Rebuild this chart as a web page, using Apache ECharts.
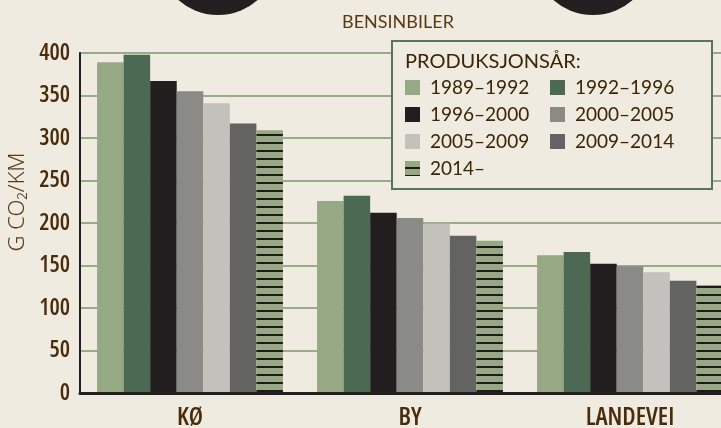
<!DOCTYPE html>
<html>
<head>
<meta charset="utf-8">
<script src="https://cdn.jsdelivr.net/npm/echarts@6/dist/echarts.min.js"></script>
<style>
html,body{margin:0;padding:0;background:#efebe1;}
#c{width:721px;height:428px;}
</style>
</head>
<body>
<div id="c"></div>
<script>
const categories = ['KØ', 'BY', 'LANDEVEI'];
const seriesNames = ['1989–1992', '1992–1996', '1996–2000', '2000–2005', '2005–2009', '2009–2014', '2014–'];
const v1989 = [389, 226, 162];
const v1992 = [398, 232, 166];
const v1996 = [367, 212, 152];
const v2000 = [355, 206, 149];
const v2005 = [341, 199, 142];
const v2009 = [317, 185, 132];
const v2014 = [309, 179, 127];
const seriesValues = [v1989, v1992, v1996, v2000, v2005, v2009, v2014];
const legendCol1 = ['1989–1992', '1996–2000', '2005–2009', '2014–'];
const legendCol2 = ['1992–1996', '2000–2005', '2009–2014'];

const BG = '#efebe1';
const BROWN = '#4a2c0a';
const LEG = '#3d2405';
const colors = ['#97a884', '#4c6a53', '#221e1f', '#8a8b86', '#c2c1bc', '#636362'];

// stripe pattern for newest series
const pc = document.createElement('canvas');
pc.width = 8; pc.height = 8;
const pctx = pc.getContext('2d');
pctx.fillStyle = '#97a884';
pctx.fillRect(0, 0, 8, 8);
pctx.fillStyle = '#1e1b1a';
pctx.fillRect(0, 6, 8, 2);
const stripe = { image: pc, repeat: 'repeat' };

const narrow = "'Open Sans', 'Roboto Condensed', sans-serif";

const chart = echarts.init(document.getElementById('c'), null, { renderer: 'canvas' });

const series = seriesNames.map((name, i) => ({
  name: name,
  type: 'bar',
  data: seriesValues[i],
  barGap: 0,
  barCategoryGap: '15.5%',
  itemStyle: { color: i < 6 ? colors[i] : stripe },
  emphasis: { disabled: true },
  z: 2
}));

const legendBase = {
  orient: 'vertical',
  icon: 'rect',
  itemWidth: 15,
  itemHeight: 15,
  itemGap: 8,
  top: 78,
  padding: 0,
  selectedMode: false,
  z: 20,
  textStyle: { color: LEG, fontFamily: 'Lato, "Open Sans", sans-serif', fontSize: 19, padding: [0, 0, 0, 5] }
};

chart.setOption({
  backgroundColor: BG,
  animation: false,
  grid: { left: 80, top: 53, width: 660, height: 340, outerBoundsMode: 'none', containLabel: false },
  legend: [
    Object.assign({}, legendBase, { left: 405, data: legendCol1 }),
    Object.assign({}, legendBase, { left: 550, data: legendCol2 })
  ],
  xAxis: {
    type: 'category',
    data: categories,
    axisTick: { show: false },
    axisLine: { show: true, lineStyle: { color: '#231f20', width: 3 } },
    axisLabel: { color: BROWN, fontFamily: narrow, fontStyle: 'condensed', fontWeight: 600, fontSize: 25, margin: 12 },
    z: 5
  },
  yAxis: {
    type: 'value',
    min: 0,
    max: 400,
    interval: 50,
    axisLine: { show: true, lineStyle: { color: '#231f20', width: 2 } },
    axisTick: { show: false },
    axisLabel: { color: BROWN, fontFamily: narrow, fontStyle: 'condensed', fontWeight: 600, fontSize: 23, margin: 10 },
    splitLine: { show: true, lineStyle: { color: '#9aab8a', width: 2 } }
  },
  graphic: [
    { type: 'circle', shape: { cx: 218, cy: -45, r: 60 }, style: { fill: '#231f20' }, z: 10 },
    { type: 'circle', shape: { cx: 593, cy: -45, r: 60 }, style: { fill: '#231f20' }, z: 10 },
    { type: 'text', x: 398, y: 22, style: { text: 'BENSINBILER', fill: '#5a3a14', font: '18px Lato, "Open Sans", sans-serif', textAlign: 'center', textVerticalAlign: 'middle' }, z: 10 },
    { type: 'text', x: 18, y: 202, rotation: Math.PI / 2, style: { text: 'G CO₂/KM', fill: '#5a3a14', font: '300 22px "Noto Sans", Lato, sans-serif', textAlign: 'center', textVerticalAlign: 'middle' }, z: 10 },
    { type: 'rect', shape: { x: 392, y: 41, width: 320, height: 148 }, style: { fill: BG, stroke: '#557560', lineWidth: 2 }, z: 15 },
    { type: 'text', x: 405, y: 62, style: { text: 'PRODUKSJONSÅR:', fill: LEG, font: '20px Lato, "Open Sans", sans-serif', textAlign: 'left', textVerticalAlign: 'middle' }, z: 16 }
  ],
  series: series
});
</script>
</body>
</html>
